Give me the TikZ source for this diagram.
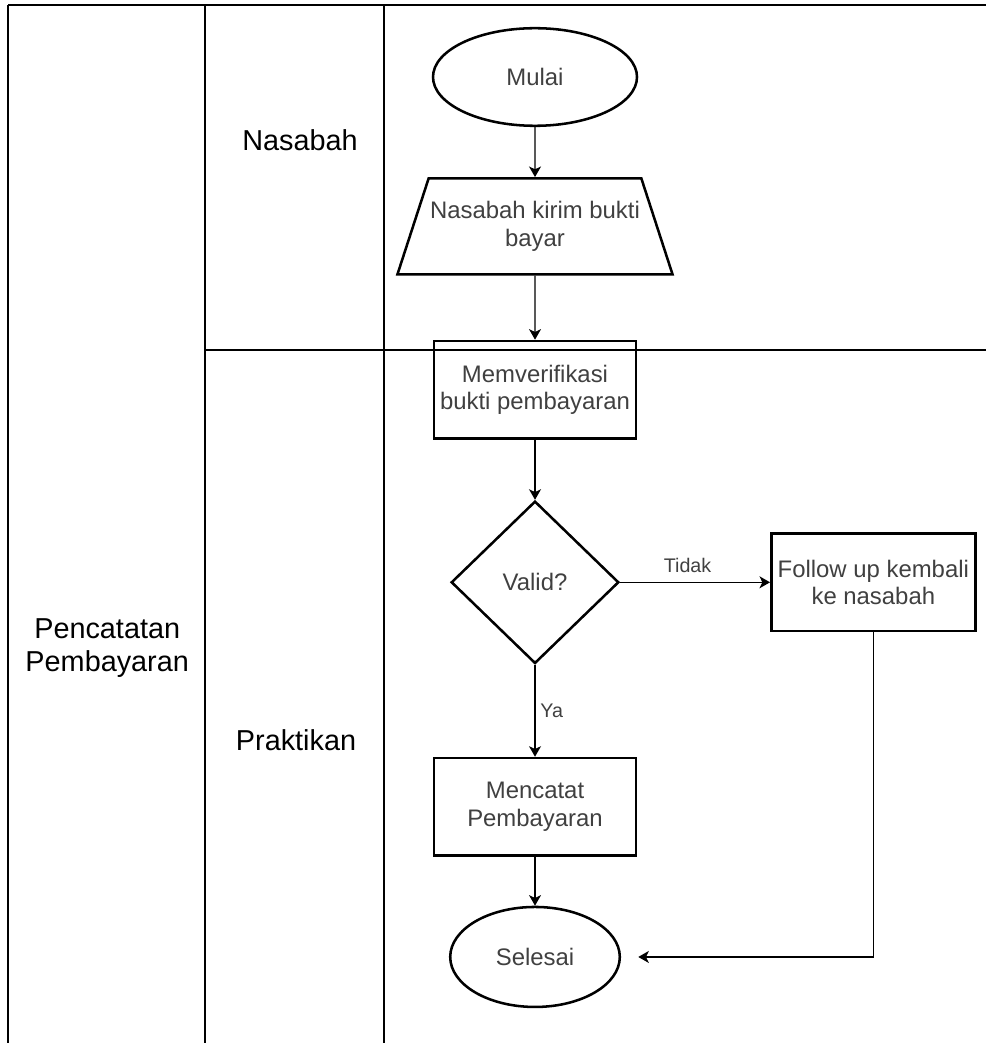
\documentclass[tikz,border=0pt]{standalone}
\usepackage{fontspec}
\setmainfont{Liberation Sans}
\usetikzlibrary{shapes.geometric, arrows.meta, positioning}
\tikzstyle{terminal} = [ellipse, draw=black, line width=1.8pt, minimum width=5.1cm, minimum height=2.44cm, text=black!75, font=\fontsize{17}{19.5}\selectfont, align=center]
\tikzstyle{inputbox} = [trapezium, trapezium angle=72, trapezium stretches body=true, draw=black, line width=1.8pt, minimum width=6.74cm, inner xsep=1pt, inner ysep=16.5pt, text=black!75, font=\fontsize{17}{19.5}\selectfont, align=center]
\tikzstyle{process} = [rectangle, draw=black, line width=1.8pt, minimum width=5.04cm, minimum height=2.44cm, text=black!75, font=\fontsize{17}{19.5}\selectfont, align=center]
\tikzstyle{decision} = [diamond, draw=black, line width=1.8pt, minimum width=4.19cm, minimum height=4.06cm, inner sep=0pt, text=black!75, font=\fontsize{17}{19.5}\selectfont]
\tikzstyle{arrow} = [line width=1pt, -{Stealth[length=7.5pt, width=8.5pt, inset=2pt]}]
\tikzstyle{lane} = [line width=0.9pt]
\tikzstyle{lanelabel} = [font=\fontsize{20.5}{23.5}\selectfont, align=center]
\tikzstyle{flowlabel} = [text=black!75, font=\fontsize{14}{16}\selectfont]

\begin{document}
\begin{tikzpicture}
    \useasboundingbox (0,0) rectangle (24.65,-26.075);
    % swimlanes
    \draw [lane] (0.2,-0.125) -- (24.65,-0.125);
    \draw [lane] (0.2,-0.125) -- (0.2,-26.075);
    \draw [lane] (5.125,-0.125) -- (5.125,-26.075);
    \draw [lane] (9.6,-0.125) -- (9.6,-26.075);
    \draw [lane, line width=1.3pt] (5.125,-8.75) -- (24.65,-8.75);
    \node (nasabah) [lanelabel] at (7.5,-3.5) {Nasabah};
    \node (praktikan) [lanelabel] at (7.4,-18.5) {Praktikan};
    \node (pencatatan) [lanelabel] at (2.68,-16.2) {Pencatatan\\Pembayaran};

    % flow
    \node (mulai) [terminal] at (13.375,-1.925) {Mulai};
    \node (kirim) [inputbox, below=1.25cm of mulai] {Nasabah kirim bukti\\bayar};
    \node (verif) [process, below=1.6cm of kirim] {Memverifikasi\\bukti pembayaran};
    \node (valid) [decision, below=1.5cm of verif] {Valid?};
    \node (follow) [process, right=3.75cm of valid, minimum width=5.1cm] {Follow up kembali\\ke nasabah};
    \node (catat) [process, below=2.3cm of valid] {Mencatat\\Pembayaran};
    \node (selesai) [terminal, below=1.22cm of catat, minimum width=4.24cm, minimum height=2.5cm] {Selesai};

    \draw [arrow] (mulai) -- (kirim);
    \draw [arrow] (kirim) -- (verif);
    \draw [arrow] (verif) -- (valid);
    \draw [arrow] (valid) -- node [flowlabel, above=3pt, pos=0.45] {Tidak} (follow);
    \draw [arrow] (valid) -- node [flowlabel, right] {Ya} (catat);
    \draw [arrow] (catat) -- (selesai);
    \draw [arrow, shorten >=0.43cm] (follow.south) |- (selesai.east);
\end{tikzpicture}
\end{document}
